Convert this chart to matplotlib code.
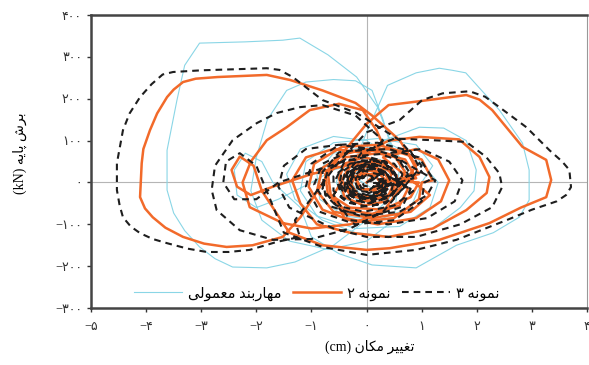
import matplotlib.pyplot as plt
from matplotlib.ticker import FuncFormatter, MultipleLocator

# Base shear vs. displacement hysteresis, three specimens

# axis texts (logical order)
y_title = "برش پایه"
x_title = "تغییر مکان"
labels = ["مهاربند معمولی", "نمونه ۲", "نمونه ۳"]

# conventional brace (displacement cm, shear kN)
brace_pts = [
    (0.0, 0), (0.15, 20), (0.0, 35), (-0.2, 25), (-0.25, -5), (-0.1, -30), (0.15, -30), (0.3, -5),
    (0.45, 30), (0.25, 55), (-0.1, 60), (-0.45, 40), (-0.55, 0), (-0.4, -40), (0.0, -55), (0.4, -40), (0.6, 0),
    (0.75, 40), (0.5, 75), (0.0, 85), (-0.6, 70), (-0.9, 20), (-0.85, -40), (-0.4, -80), (0.2, -90), (0.8, -60), (1.0, 0),
    (1.2, 40), (0.9, 90), (0.2, 105), (-0.6, 95), (-1.1, 50), (-1.2, -20), (-0.9, -80), (-0.2, -110),
    (0.6, -105), (1.15, -60), (1.3, 0),
    # right medium loop
    (0.9, 60), (0.3, 100), (0.96, 132), (1.4, 130), (1.81, 100), (1.99, 30), (1.95, -20), (1.7, -60),
    (1.2, -110), (0.5, -130), (-0.2, -120), (-0.8, -90),
    # left medium loop
    (-1.3, -40), (-1.45, 20), (-1.2, 80), (-0.6, 110), (0.0, 100),
    (0.5, 60), (0.3, 150), (0.1, 220), (-0.2, 243), (-0.6, 246), (-1.1, 240), (-1.45, 220), (-1.8, 150),
    (-2.0, 60), (-2.1, -20), (-1.9, -90), (-1.4, -140), (-0.7, -160), (0.0, -140), (0.5, -90),
    # big left loop
    (0.6, 40), (0.2, 180), (-0.18, 252), (-0.7, 305), (-1.21, 345), (-1.52, 340), (-2.2, 336),
    (-3.03, 333), (-3.3, 280), (-3.44, 197), (-3.62, 77), (-3.62, -18), (-3.5, -73), (-3.3, -115),
    (-3.03, -154), (-2.75, -182), (-2.43, -202), (-1.81, -204), (-1.3, -190), (-0.6, -150), (0.0, -90), (0.4, -40),
    # big right loop
    (-0.3, 20), (0.0, 120), (0.38, 232), (0.9, 262), (1.32, 273), (1.56, 268), (1.8, 262), (2.41, 173),
    (2.83, 94), (2.95, 30), (2.95, -42), (2.77, -83), (2.3, -120), (1.63, -150), (0.9, -204),
    (0.1, -197), (-0.5, -170), (-1.0, -130), (-1.2, -60),
    # small left loops
    (-1.7, 0), (-1.9, 50), (-2.2, 70), (-2.4, 30), (-2.35, -30), (-2.0, -60), (-1.6, -40), (-1.0, 0),
    (-0.6, 30), (0.0, 50), (0.5, 30), (0.6, -10), (0.3, -40), (-0.2, -40), (-0.3, 0), (0.0, 20),
]

# specimen 2
n2_pts = [
    (0.0, 0), (0.2, 25), (0.05, 40), (-0.2, 30), (-0.3, 0), (-0.15, -30), (0.15, -35), (0.3, -10),
    (0.25, 0), (0.15, 18), (-0.05, 22), (-0.18, 5), (-0.1, -15), (0.1, -18), (0.25, 0),
    (0.4, 5), (0.3, 30), (0.05, 40), (-0.25, 30), (-0.35, 0), (-0.2, -28), (0.1, -35), (0.35, -18),
    (0.45, 20), (0.3, 50), (-0.05, 60), (-0.4, 45), (-0.5, 10), (-0.4, -35), (-0.05, -55), (0.35, -45), (0.5, -10),
    (0.7, 25), (0.5, 65), (0.0, 80), (-0.5, 65), (-0.75, 20), (-0.7, -30), (-0.4, -65), (0.1, -75), (0.6, -55), (0.75, -15),
    (0.6, 0), (0.45, 35), (0.1, 50), (-0.3, 40), (-0.45, 5), (-0.3, -30), (0.05, -45), (0.45, -30), (0.65, 5),
    (0.9, 10), (0.7, 55), (0.2, 70), (-0.4, 60), (-0.7, 20), (-0.65, -30), (-0.3, -60), (0.3, -65), (0.8, -35), (0.95, 0),
    (0.35, 5), (0.2, 25), (-0.05, 30), (-0.2, 10), (-0.1, -15), (0.15, -20), (0.35, 0),
    (0.95, 20), (0.75, 70), (0.2, 90), (-0.45, 85), (-0.95, 45), (-1.05, -10), (-0.8, -65), (-0.2, -95),
    (0.5, -85), (0.95, -40), (1.0, 0),
    (1.2, 5), (1.0, 55), (0.4, 80), (-0.3, 75), (-0.8, 35), (-0.9, -20), (-0.6, -70), (0.1, -85), (0.8, -70), (1.15, -30),
    # right loops
    (0.3, 60), (0.9, 80), (1.3, 55), (1.5, 5), (1.35, -45), (0.9, -85), (0.2, -100), (-0.4, -85),
    (-0.6, -30), (-0.2, 60), (0.4, 100), (0.96, 109), (1.68, 103), (2.05, 61), (2.23, 13), (2.18, -25),
    (1.81, -66), (1.2, -110), (0.4, -130), (-0.3, -120), (-0.9, -100),
    # left medium loops
    (-1.2, -50), (-1.35, 5), (-1.1, 60), (-0.6, 80), (0.0, 70), (0.3, 90),
    (0.18, 125), (-0.07, 173), (-0.5, 188), (-1.03, 173), (-1.45, 132), (-1.81, 101), (-2.1, 50),
    (-2.25, 0), (-2.12, -59), (-1.52, -97), (-1.0, -110), (-0.3, -100), (0.3, -70),
    # outer left loop
    (0.9, 40), (0.6, 101), (0.1, 160), (-0.2, 190), (-0.8, 220), (-1.39, 245), (-1.81, 257), (-2.7, 252),
    (-3.1, 248), (-3.33, 240), (-3.5, 222), (-3.62, 204), (-3.8, 165), (-3.93, 125), (-4.05, 80),
    (-4.08, 46), (-4.11, -35), (-4.02, -62), (-3.88, -83), (-3.65, -108), (-3.33, -130), (-2.95, -146),
    (-2.54, -154), (-2.07, -150), (-1.52, -130), (-1.2, -83),
    # outer right loop
    (-0.5, 60), (0.0, 140), (0.4, 185), (1.01, 195), (1.81, 209), (2.05, 198), (2.28, 173), (2.83, 85),
    (3.26, 54), (3.35, 6), (3.26, -35), (2.8, -60), (2.23, -97), (1.32, -137), (0.42, -157), (0.0, -161),
    (-0.8, -150), (-1.4, -120),
    # small left hook loop
    (-1.9, -20), (-2.05, 40), (-2.3, 62), (-2.45, 30), (-2.35, -10), (-2.1, -30), (-1.7, -10),
    (-1.0, 20), (-0.4, 40), (0.2, 45), (0.55, 15), (0.4, -30), (0.0, -45), (-0.35, -20), (-0.2, 15), (0.1, 20),
]

# specimen 3
n3_pts = [
    (0.0, 0), (0.25, 20), (0.1, 40), (-0.2, 35), (-0.35, 5), (-0.2, -30), (0.1, -40), (0.35, -15),
    (0.15, 0), (0.1, 15), (-0.05, 20), (-0.15, 5), (-0.1, -12), (0.05, -18), (0.18, -5),
    (0.35, 10), (0.25, 30), (0.0, 35), (-0.25, 20), (-0.3, -5), (-0.15, -28), (0.1, -32), (0.3, -15), (0.35, 5),
    (0.2, -5), (0.3, 15), (0.2, 32), (-0.1, 30), (-0.28, 8), (-0.25, -18), (0.0, -30), (0.22, -22),
    (0.45, 0), (0.35, 25), (0.1, 38), (-0.2, 32), (-0.38, 5), (-0.3, -25), (0.0, -38), (0.3, -28), (0.45, -5),
    (0.05, 0), (0.12, 10), (0.0, 18), (-0.1, 8), (-0.05, -8), (0.08, -10),
    (0.6, -5), (0.5, 25), (0.25, 40), (-0.1, 40), (-0.4, 20), (-0.45, -10), (-0.25, -35), (0.1, -42), (0.45, -30), (0.6, -8),
    (0.5, 15), (0.35, 50), (0.0, 62), (-0.4, 50), (-0.55, 10), (-0.45, -35), (-0.1, -58), (0.35, -50), (0.55, -15),
    (0.75, 20), (0.55, 62), (0.05, 82), (-0.5, 72), (-0.8, 25), (-0.75, -30), (-0.45, -68), (0.1, -80), (0.65, -58), (0.8, -15),
    (0.2, 30), (0.0, 45), (-0.25, 20), (-0.15, -20), (0.2, -25), (0.35, 10),
    (0.1, 5), (0.3, 25), (0.15, 45), (-0.15, 40), (-0.35, 15), (-0.3, -20), (-0.05, -40), (0.25, -30), (0.4, -5),
    (0.55, 10), (0.45, 35), (0.2, 50), (-0.2, 48), (-0.45, 25), (-0.5, -10), (-0.3, -40), (0.05, -50), (0.4, -35), (0.6, -5),
    (0.65, 20), (0.5, 45), (0.1, 55), (-0.3, 45), (-0.6, 15), (-0.6, -20), (-0.35, -48), (0.05, -58), (0.45, -42), (0.7, -10),
    (0.3, 0), (0.2, 20), (-0.05, 28), (-0.2, 10), (-0.15, -15), (0.05, -25), (0.25, -12),
    (0.85, 10), (0.65, 50), (0.25, 68), (-0.3, 62), (-0.7, 30), (-0.8, -15), (-0.55, -55), (-0.05, -70), (0.5, -55), (0.85, -20),
    (0.4, 15), (0.25, 40), (-0.1, 45), (-0.35, 25), (-0.4, -10), (-0.2, -35), (0.15, -40), (0.45, -20), (0.5, 5),
    (1.0, 25), (0.8, 75), (0.2, 95), (-0.5, 90), (-1.0, 45), (-1.1, -10), (-0.85, -70), (-0.2, -100),
    (0.5, -90), (1.0, -45), (1.05, 0),
    (1.2, 10), (0.95, 60), (0.4, 80), (-0.3, 75), (-0.8, 45), (-0.95, -5), (-0.7, -55), (-0.1, -80), (0.6, -70), (1.1, -30), (1.25, 5),
    # right loops
    (0.4, 70), (1.0, 80), (1.5, 50), (1.74, 5), (1.6, -45), (1.1, -85), (0.4, -100), (-0.3, -90),
    (-0.6, -30), (-0.1, 70), (0.5, 105), (1.2, 101), (1.81, 97), (2.17, 61), (2.41, 22), (2.46, -11),
    (2.28, -59), (1.7, -100), (0.9, -130), (0.0, -130), (-0.6, -110),
    # left medium loops
    (-1.4, -60), (-1.6, -10), (-1.5, 40), (-1.1, 80), (-0.5, 90), (0.1, 80),
    (0.3, 100), (-0.2, 160), (-0.8, 185), (-1.21, 180), (-1.63, 166), (-1.99, 142), (-2.43, 101),
    (-2.75, 40), (-2.81, -18), (-2.72, -66), (-2.3, -114), (-1.7, -137), (-1.0, -135), (-0.3, -110), (0.3, -70),
    # outer left loop
    (1.0, 40), (0.6, 101), (-0.18, 166), (-0.8, 197), (-1.34, 252), (-1.58, 269), (-1.81, 273),
    (-3.0, 268), (-3.51, 264), (-3.7, 258), (-3.9, 235), (-4.11, 204), (-4.3, 165), (-4.42, 125),
    (-4.53, 46), (-4.53, -18), (-4.48, -55), (-4.42, -83), (-4.28, -105), (-4.11, -121), (-3.88, -135),
    (-3.62, -145), (-3.25, -158), (-2.9, -166), (-2.5, -166), (-2.12, -161), (-1.63, -142),
    (-1.21, -130), (-1.3, -90),
    # outer right loop
    (-0.5, 50), (0.0, 120), (0.6, 149), (1.01, 197), (1.38, 213), (1.87, 218), (2.15, 205), (2.41, 180),
    (2.9, 132), (3.32, 77), (3.55, 50), (3.68, 30), (3.71, -11), (3.62, -30), (3.45, -45), (3.0, -65),
    (2.54, -90), (1.63, -137), (0.9, -161), (0.0, -173), (-0.8, -154), (-1.5, -120),
    # small left hook loop
    (-2.0, 40), (-2.3, 70), (-2.55, 50), (-2.6, 0), (-2.4, -40), (-2.0, -40), (-1.6, 0),
    (-0.9, 30), (-0.3, 55), (0.3, 50), (0.6, 10), (0.45, -35), (0.0, -50), (-0.4, -25), (-0.25, 15), (0.05, 10),
]

# Persian letter shapes: isolated, final, initial, medial
FORMS = {
    "ا": ("\ufe8d", "\ufe8e", None, None),
    "ب": ("\ufe8f", "\ufe90", "\ufe91", "\ufe92"),
    "پ": ("\ufb56", "\ufb57", "\ufb58", "\ufb59"),
    "ت": ("\ufe95", "\ufe96", "\ufe97", "\ufe98"),
    "د": ("\ufea9", "\ufeaa", None, None),
    "ر": ("\ufead", "\ufeae", None, None),
    "ش": ("\ufeb5", "\ufeb6", "\ufeb7", "\ufeb8"),
    "ع": ("\ufec9", "\ufeca", "\ufecb", "\ufecc"),
    "غ": ("\ufecd", "\ufece", "\ufecf", "\ufed0"),
    "ک": ("\ufb8e", "\ufb8f", "\ufb90", "\ufb91"),
    "ل": ("\ufedd", "\ufede", "\ufedf", "\ufee0"),
    "م": ("\ufee1", "\ufee2", "\ufee3", "\ufee4"),
    "ن": ("\ufee5", "\ufee6", "\ufee7", "\ufee8"),
    "ه": ("\ufee9", "\ufeea", "\ufeeb", "\ufeec"),
    "و": ("\ufeed", "\ufeee", None, None),
    "ی": ("\ufbfc", "\ufbfd", "\ufbfe", "\ufbff"),
}


def shape(text):
    # join letters and flip to visual order
    out = []
    for i, ch in enumerate(text):
        if ch not in FORMS:
            out.append(ch)
            continue
        prev = text[i - 1] if i > 0 else ""
        nxt = text[i + 1] if i + 1 < len(text) else ""
        join_prev = prev in FORMS and FORMS[prev][2] is not None
        join_next = nxt in FORMS and FORMS[ch][2] is not None
        iso, fin, ini, med = FORMS[ch]
        if join_prev and join_next:
            out.append(med)
        elif join_prev:
            out.append(fin)
        elif join_next:
            out.append(ini)
        else:
            out.append(iso)
    return "".join(reversed(out))


def fa_num(v, pos=None):
    s = str(int(round(v))).translate(str.maketrans("0123456789", "۰۱۲۳۴۵۶۷۸۹"))
    return s.replace("-", "\u2212")


FONT = ["Liberation Serif", "DejaVu Sans"]
plt.rcParams["font.family"] = FONT
plt.rcParams["font.size"] = 8

fig = plt.figure(figsize=(5.89, 3.65), dpi=100)
ax = fig.add_axes([0.1545, 0.156, 0.8421, 0.8027])

ax.axhline(0, color="#b5b5b5", lw=0.8, zorder=0)
ax.axvline(0, color="#b5b5b5", lw=0.8, zorder=0)

bx, by = zip(*brace_pts)
ax.plot(bx, by, color="#8ad6e6", lw=0.8, label=shape(labels[0]), zorder=1)
ox, oy = zip(*n2_pts)
ax.plot(ox, oy, color="#f26a2a", lw=1.8, label=shape(labels[1]), zorder=2)
kx, ky = zip(*n3_pts)
ax.plot(kx, ky, color="#1e1e1e", lw=1.5, ls=(0, (3.2, 2.4)), label=shape(labels[2]), zorder=3)

ax.set_xlim(-5, 4)
ax.set_ylim(-300, 400)
ax.xaxis.set_major_locator(MultipleLocator(1))
ax.yaxis.set_major_locator(MultipleLocator(100))
ax.xaxis.set_major_formatter(FuncFormatter(fa_num))
ax.yaxis.set_major_formatter(FuncFormatter(fa_num))
ax.tick_params(axis="both", direction="out", length=3, width=1, labelsize=9, colors="#333333")
ax.tick_params(axis="x", pad=6)

for side in ["left", "top", "bottom"]:
    ax.spines[side].set_linewidth(1.8)
    ax.spines[side].set_color("#444444")
ax.spines["right"].set_linewidth(0.8)
ax.spines["right"].set_color("#999999")

ax.set_xlabel("(cm) " + shape(x_title), fontsize=10)
ax.xaxis.set_label_coords(0.563, -0.11)
ax.set_ylabel("(kN) " + shape(y_title), fontsize=10)
ax.yaxis.set_label_coords(-0.13, 0.53)

leg = ax.legend(loc="center", bbox_to_anchor=(0.455, 0.05), ncol=3, frameon=False,
                fontsize=10.5, handlelength=3.3, columnspacing=0.8, handletextpad=0.4)

fig.savefig("out.png", dpi=100)
